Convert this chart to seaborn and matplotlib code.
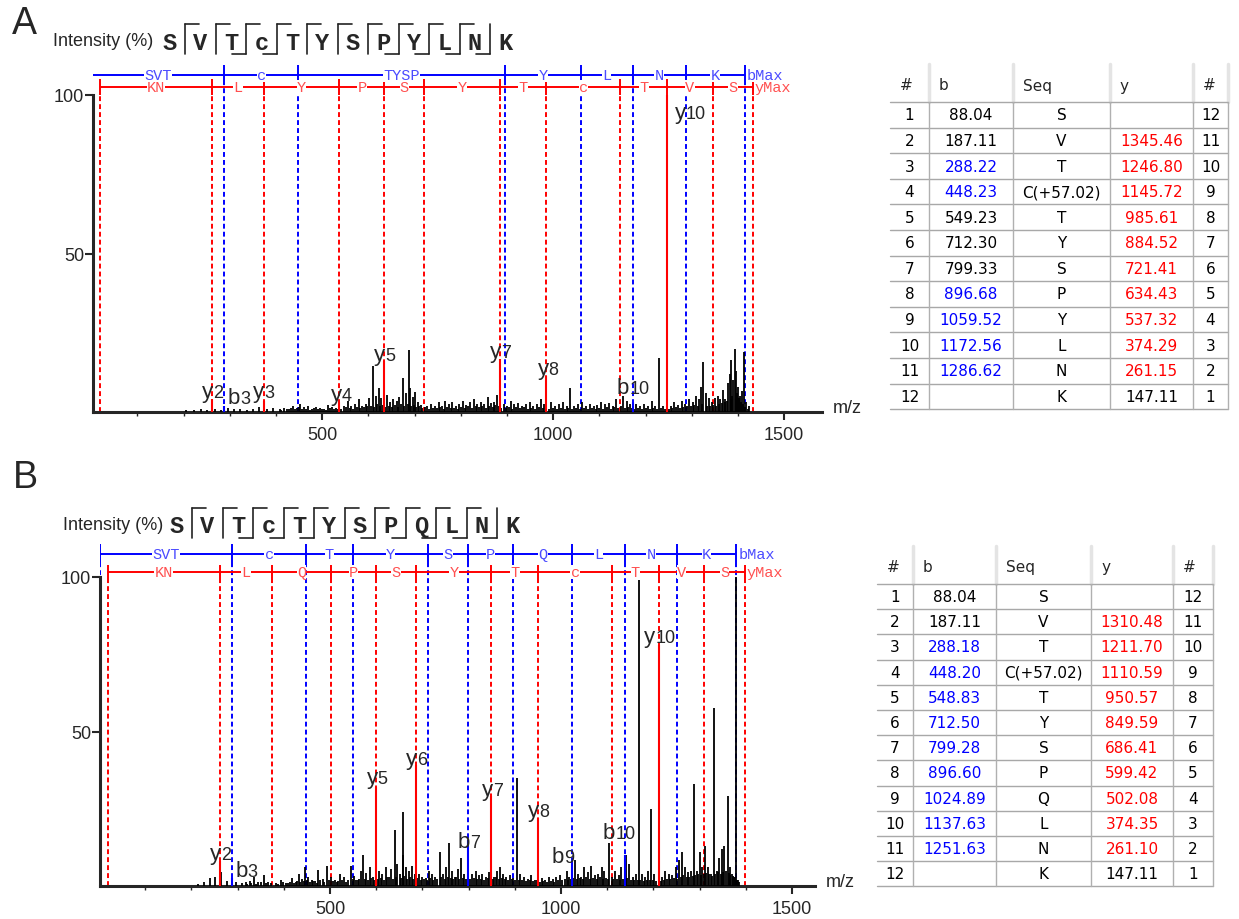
import numpy as np
import seaborn as sns
import matplotlib.pyplot as plt

sns.set_style("ticks")
plt.rcParams['font.family'] = ['Liberation Sans', 'DejaVu Sans']

BLUE = '#0000ff'
RED = '#ff0000'
BLUE_TXT = '#4b4bff'
RED_TXT = '#ff5050'

# ---------------- panel A data ----------------
seq_a = "SVTcTYSPYLNK"
b_a = [88.04, 187.11, 288.22, 448.23, 549.23, 712.30, 799.33, 896.68, 1059.52, 1172.56, 1286.62]
y_a = [None, 1345.46, 1246.80, 1145.72, 985.61, 884.52, 721.41, 634.43, 537.32, 374.29, 261.15, 147.11]
b_hit_a = [3, 4, 8, 9, 10, 11]
y_hit_a = [2, 3, 4, 5, 6, 7, 8, 9, 10, 11]
b_max_a, y_max_a = 1414.71, 1432.49

# larger unassigned peaks
mz_a = [205, 222, 238, 251, 268, 281, 296, 309, 322, 337, 351, 363, 381, 393,
        408, 417, 429, 437, 446, 453, 461, 469, 478, 487, 496, 504, 513, 521, 529, 548, 556, 563, 571, 579, 586, 594, 601,
        610, 616, 622, 628, 641, 647, 654, 661, 667, 675, 681, 688, 691, 696, 701, 707, 713,
        728, 736, 744, 752, 759, 767, 774, 782, 790, 797, 805, 812, 820, 828, 836, 843, 851, 858, 865, 872, 878,
        893, 900, 908, 916, 924, 932, 941, 949, 957, 965, 973, 980, 996, 1004, 1012, 1021, 1029, 1037, 1046, 1054,
        1063, 1071, 1080, 1088, 1096, 1104, 1112, 1121, 1129, 1136, 1152, 1160, 1167, 1180, 1188, 1196, 1205, 1213, 1221, 1229, 1237,
        1255, 1262, 1270, 1278, 1286, 1294, 1302, 1309, 1316, 1320, 1325, 1330, 1337, 1343, 1350, 1356, 1362, 1368, 1373, 1378,
        1382, 1386, 1390, 1393, 1396, 1400, 1405, 1409, 1413, 1418, 1424]
int_a = [0.5, 0.7, 0.9, 0.6, 1.0, 0.7, 1.2, 0.8, 1.0, 0.7, 1.1, 1.5, 0.9, 1.3,
         0.8, 1.4, 1.0, 2.0, 1.2, 2.6, 1.5, 1.9, 1.0, 1.6, 1.3, 1.1, 2.3, 1.5, 1.2, 2.0, 3.6, 1.8, 2.4, 4.0, 2.0, 2.6, 4.5,
         14.5, 5.0, 7.5, 4.4, 5.5, 3.0, 4.2, 3.5, 4.8, 10.7, 6.0, 19.6, 7.5, 4.6, 6.2, 3.0, 2.2,
         2.0, 2.6, 1.8, 3.0, 2.0, 3.4, 2.4, 3.0, 2.0, 2.6, 3.6, 2.2, 3.0, 4.0, 2.6, 3.0, 2.4, 4.6, 2.8, 3.2, 5.5,
         2.6, 2.0, 3.4, 2.4, 2.8, 2.0, 2.6, 3.0, 2.0, 2.4, 4.0, 2.4, 3.0, 2.0, 2.6, 3.0, 1.8, 7.5, 2.0, 2.6,
         3.0, 2.0, 2.6, 1.8, 2.2, 3.0, 2.4, 2.8, 2.0, 4.0, 5.0, 3.6, 2.4, 2.6, 2.0, 2.4, 1.8, 3.4, 2.0, 17.0, 2.0,
         1.8, 3.0, 2.2, 3.4, 2.6, 4.0, 3.0, 5.0, 4.0, 8.0, 15.8, 6.0, 4.5, 3.0, 4.5, 5.0, 4.2, 7.0, 4.0, 9.0,
         12.0, 16.4, 10.0, 20.0, 13.0, 8.0, 5.0, 6.5, 19.0, 3.0, 2.0]

# low noise floor
mz_a_low = [412, 423, 433, 441, 450, 457, 465, 473, 483, 491, 500, 508, 517, 525, 534, 540, 552, 560, 567, 575,
            583, 590, 598, 605, 613, 619, 625, 632, 637, 644, 651, 658, 664, 671, 678, 685, 693, 699, 704, 710,
            717, 722, 732, 740, 748, 755, 763, 771, 778, 786, 794, 801, 809, 816, 824, 832, 840, 847, 855, 862,
            869, 875, 882, 888, 897, 904, 912, 920, 928, 936, 945, 953, 961, 969, 977, 984, 991, 1000, 1008, 1016,
            1025, 1033, 1041, 1050, 1058, 1067, 1075, 1084, 1092, 1100, 1108, 1116, 1125, 1132, 1140, 1147, 1156, 1163, 1171, 1176,
            1184, 1192, 1200, 1209, 1217, 1225, 1233, 1243, 1250, 1258, 1266, 1274, 1282, 1290, 1298, 1305, 1313, 1323, 1334, 1340,
            1347, 1353, 1359, 1365, 1371, 1376, 1384, 1388, 1398, 1403, 1407, 1411, 1416, 1421]
int_a_low = [0.6, 0.9, 1.2, 0.8, 1.5, 0.9, 1.1, 0.7, 1.3, 0.8, 1.0, 0.7, 1.4, 0.9, 1.1, 0.8, 1.5, 1.2, 1.0, 1.6,
             1.2, 1.5, 1.8, 2.0, 1.6, 2.4, 1.8, 2.2, 1.5, 2.0, 1.6, 2.2, 1.5, 2.5, 2.0, 2.4, 2.0, 2.2, 1.6, 1.8,
             1.2, 1.5, 1.0, 1.4, 1.2, 1.6, 1.0, 1.5, 1.2, 1.4, 1.0, 1.6, 1.2, 1.8, 1.4, 2.0, 1.5, 1.8, 1.4, 2.0,
             1.6, 2.2, 1.8, 1.4, 1.2, 1.5, 1.0, 1.6, 1.2, 1.5, 1.0, 1.4, 1.0, 1.6, 1.2, 1.4, 1.0, 1.2, 0.9, 1.4,
             1.0, 1.2, 0.9, 1.2, 1.0, 1.4, 1.0, 1.2, 0.9, 1.3, 1.0, 1.5, 1.0, 1.6, 1.2, 1.8, 1.4, 1.6, 1.2, 1.0,
             1.4, 1.0, 1.2, 1.0, 1.4, 1.0, 1.2, 0.8, 1.0, 1.2, 1.5, 1.2, 1.6, 1.8, 2.0, 2.2, 2.0, 2.5, 2.0, 1.8,
             2.2, 2.0, 2.5, 2.8, 3.0, 3.5, 4.0, 5.0, 6.0, 4.5, 3.0, 2.5, 1.5, 1.0]

ions_a = ['y2', 'b3', 'y3', 'y4', 'y5', 'y7', 'y8', 'b10', 'y10']
ion_int_a = [4, 2, 3.5, 3, 16, 16.7, 11.4, 3, 100]
lab_mz_a = [262, 320, 374, 541, 636, 887, 989, 1173, 1297]
lab_lvl_a = [5.7, 5.4, 5.7, 5.0, 17.4, 18.3, 13.2, 8.5, 94]

# ---------------- panel B data ----------------
seq_b = "SVTcTYSPQLNK"
b_b = [88.04, 187.11, 288.18, 448.20, 548.83, 712.50, 799.28, 896.60, 1024.89, 1137.63, 1251.63]
y_b = [None, 1310.48, 1211.70, 1110.59, 950.57, 849.59, 686.41, 599.42, 502.08, 374.35, 261.10, 147.11]
b_hit_b = [3, 4, 5, 6, 7, 8, 9, 10, 11]
y_hit_b = [2, 3, 4, 5, 6, 7, 8, 9, 10, 11]
b_max_b, y_max_b = 1379.72, 1397.51

mz_b = [215, 228, 241, 250, 265, 276, 296, 309, 318, 326, 336, 345, 357, 366, 382, 393, 404,
        418, 426, 432, 439, 446, 453, 461, 468, 475, 484, 494, 503, 511, 522, 531, 545, 553, 560, 566, 571, 578, 586, 592,
        606, 613, 621, 628, 633, 640, 646, 651, 657, 659, 664, 670, 677, 683, 693, 700, 708, 714, 721, 728,
        738, 745, 752, 757, 764, 770, 776, 783, 790,
        808, 815, 822, 830, 838, 844, 856, 862, 868, 875, 882, 890, 897, 905, 912, 920, 928, 936, 944, 958, 966, 974, 982, 990, 998,
        1012, 1018, 1030, 1037, 1044, 1050, 1058, 1066, 1073, 1080, 1088, 1094, 1104, 1110, 1118, 1125, 1131, 1141, 1148,
        1156, 1163, 1169, 1175, 1182, 1189, 1195, 1202,
        1219, 1226, 1234, 1241, 1248, 1256, 1262, 1269, 1275, 1282, 1288, 1294, 1300, 1306, 1312, 1318, 1324, 1331, 1337,
        1343, 1349, 1354, 1361, 1365, 1370, 1374, 1379, 1384]
int_b = [0.6, 1.2, 2.5, 3.0, 4.5, 1.5, 1.4, 1.0, 1.2, 1.6, 3.0, 1.2, 3.6, 1.4, 1.0, 2.0, 1.0,
         2.6, 1.4, 4.0, 2.2, 6.0, 3.0, 2.0, 1.6, 5.2, 2.4, 6.4, 3.0, 2.0, 4.0, 3.0, 6.6, 3.2, 2.0, 5.0, 10.0, 4.2, 6.0, 3.0,
         5.0, 4.0, 6.0, 3.0, 5.6, 18.0, 7.0, 4.0, 24.0, 10.0, 6.0, 5.0, 6.5, 4.0, 4.0, 3.0, 2.5, 5.0, 4.0, 3.0,
         11.0, 4.0, 6.0, 14.0, 5.0, 3.0, 5.5, 9.0, 4.0,
         4.0, 5.0, 3.4, 4.0, 3.0, 4.6, 3.0, 5.0, 6.0, 4.0, 3.0, 3.4, 2.6, 35.0, 4.0, 3.0, 2.4, 3.4, 2.0, 2.6, 2.0, 3.0, 2.2, 3.0, 3.6,
         5.0, 3.0, 8.5, 4.0, 3.0, 6.0, 4.5, 6.5, 3.5, 4.0, 6.0, 5.0, 14.0, 3.0, 5.0, 3.5, 6.0, 10.0, 7.0,
         3.0, 4.0, 99.0, 4.0, 3.0, 5.0, 25.0, 4.0,
         3.0, 5.0, 4.0, 3.5, 6.0, 8.5, 11.0, 6.0, 4.5, 5.0, 33.0, 5.0, 11.0, 6.0, 13.0, 6.0, 4.0, 57.6, 5.0,
         9.0, 12.0, 13.0, 29.0, 6.0, 4.0, 3.0, 100.0, 2.0]

mz_b_low = [320, 330, 340, 350, 362, 372, 388, 398, 410, 414, 422, 429, 436, 443, 450, 457, 464, 472, 479, 488,
            498, 507, 515, 518, 526, 535, 540, 549, 556, 563, 575, 582, 589, 596, 603, 610, 617, 624, 636, 643,
            654, 661, 667, 674, 680, 689, 697, 704, 711, 717, 724, 732, 741, 748, 755, 761, 767, 773, 779, 787,
            795, 803, 812, 818, 826, 834, 841, 848, 853, 859, 865, 872, 879, 886, 894, 901, 909, 916, 924, 932,
            940, 948, 954, 962, 970, 978, 986, 994, 1003, 1008, 1015, 1022, 1027, 1034, 1041, 1047, 1054, 1062, 1070, 1077,
            1084, 1091, 1098, 1101, 1113, 1121, 1128, 1135, 1144, 1152, 1159, 1166, 1172, 1179, 1186, 1192, 1199, 1206, 1213, 1216,
            1222, 1229, 1237, 1244, 1251, 1259, 1265, 1272, 1278, 1285, 1291, 1297, 1303, 1309, 1315, 1321, 1327, 1334, 1340, 1346,
            1351, 1357, 1363, 1367, 1372, 1376, 1381, 1386]
int_b_low = [0.8, 1.0, 0.8, 1.2, 0.9, 1.0, 0.8, 1.2, 1.0, 1.4, 0.9, 1.6, 1.2, 1.5, 1.8, 1.2, 1.5, 1.0, 1.8, 1.4,
             2.0, 1.5, 1.2, 1.6, 1.8, 1.4, 2.0, 2.4, 1.8, 2.2, 2.4, 2.0, 2.6, 2.0, 2.4, 2.6, 2.0, 2.8, 2.4, 3.0,
             2.6, 3.2, 2.4, 2.8, 2.4, 2.6, 2.0, 2.4, 2.0, 2.6, 2.0, 2.4, 2.8, 2.4, 3.0, 2.6, 2.2, 2.8, 2.4, 2.6,
             2.4, 2.2, 2.6, 2.2, 2.4, 2.0, 2.6, 2.2, 2.4, 2.8, 2.4, 2.6, 2.2, 2.0, 2.2, 2.0, 1.8, 2.0, 1.6, 1.8,
             1.5, 1.8, 1.4, 1.6, 1.4, 1.6, 1.4, 1.8, 2.0, 2.4, 2.0, 2.2, 2.6, 2.2, 2.6, 2.2, 2.8, 2.4, 2.6, 2.4,
             2.8, 2.4, 2.6, 2.2, 2.4, 2.2, 2.0, 2.4, 2.6, 2.0, 1.8, 2.0, 1.8, 1.6, 1.8, 2.0, 1.8, 1.6, 1.8, 1.5,
             2.0, 2.2, 2.4, 2.6, 2.4, 3.0, 3.4, 3.0, 2.8, 3.2, 3.4, 3.8, 3.6, 4.0, 4.2, 3.8, 3.2, 4.0, 4.4, 4.0,
             4.5, 4.8, 4.2, 3.6, 3.2, 2.8, 2.0, 1.2]

ions_b = ['y2', 'b3', 'y5', 'y6', 'b7', 'y7', 'y8', 'b9', 'b10', 'y10']
ion_int_b = [8, 2.5, 32, 39, 15, 29, 22, 8, 10, 78]
lab_mz_b = [262, 319, 602, 688, 801, 851, 952, 1005, 1126, 1214]
lab_lvl_b = [9.7, 5.8, 34.3, 40.5, 15.2, 30.7, 23.6, 10.4, 18.1, 80]

table_cols = ['#', 'b', 'Seq', 'y', '#']


def ion_mz(name, b, y):
    n = int(name[1:])
    return b[n - 1] if name[0] == 'b' else y[12 - n]


def ion_label(ax, name, mz, level):
    letter, num = name[0], name[1:]
    fs1, fs2 = 16, 13
    wl = (0.5 if letter == 'y' else 0.556) * fs1
    wd = 0.556 * fs2 * len(num)
    off = -(wd - wl) / 2
    base = level - (1.1 if letter == 'y' else 2.5)
    ax.annotate(letter, (mz, base), xytext=(off, 0), textcoords='offset points',
                ha='right', va='baseline', fontsize=fs1, zorder=6)
    ax.annotate(num, (mz, base), xytext=(off, 0), textcoords='offset points',
                ha='left', va='baseline', fontsize=fs2, zorder=6)


def ladder(ax, pos, labels, level, half, color, txtcolor, endname):
    ax.hlines(level, pos[0], pos[-1], color=color, lw=1.4, zorder=3)
    ax.vlines(pos, level - half, level + half, color=color, lw=1.4, zorder=3)
    ax.vlines(pos, 0, level - half, color=color, lw=1.4, linestyles=(0, (2.5, 1.6)), zorder=2)
    for i, lab in enumerate(labels):
        ax.text((pos[i] + pos[i + 1]) / 2, level, lab, ha='center', va='center', color=txtcolor,
                fontsize=11, family='Liberation Mono', zorder=4,
                bbox=dict(fc='white', ec='none', pad=0.1))
    ax.text(pos[-1] + 4, level, endname, ha='left', va='center', color=txtcolor,
            fontsize=11, family='Liberation Mono', zorder=4,
            bbox=dict(fc='white', ec='none', pad=0.1))


def draw_spectrum(ax, seq, b, y, b_hit, y_hit, b_max, y_max, mz, inten, mz_low, int_low,
                  ions, ion_int, lab_mz, lab_lvl, lad_b, lad_y, xmax, ymax):
    ax.set_facecolor('none')
    # fragment ladders
    bi = [0] + b_hit + [12]
    bpos = [1.008] + [b[i - 1] for i in b_hit] + [b_max]
    blab = [seq[bi[j]:bi[j + 1]] for j in range(len(bi) - 1)]
    ladder(ax, bpos, blab, lad_b, 3.2, BLUE, BLUE_TXT, 'bMax')
    yi = [0] + y_hit + [12]
    ypos = [19.02] + [y[12 - k] for k in y_hit] + [y_max]
    rseq = seq[::-1]
    ylab = [rseq[yi[j]:yi[j + 1]] for j in range(len(yi) - 1)]
    ladder(ax, ypos, ylab, lad_y, 2.4, RED, RED_TXT, 'yMax')
    # peaks
    ax.vlines(mz_low, 0, int_low, color='black', lw=1.3, zorder=4)
    ax.vlines(mz, 0, inten, color='black', lw=1.3, zorder=4)
    for name, h, lx, ly in zip(ions, ion_int, lab_mz, lab_lvl):
        col = BLUE if name[0] == 'b' else RED
        ax.vlines(ion_mz(name, b, y), 0, h, color=col, lw=1.5, zorder=5)
        ion_label(ax, name, lx, ly)
    ax.set_xlim(xmax[0], xmax[1])
    ax.set_ylim(0, ymax)
    ax.set_xticks([500, 1000, 1500])
    ax.set_xticks(np.arange(100, 1600, 100), minor=True)
    ax.set_yticks([50, 100])
    ax.tick_params(axis='both', which='major', length=6, width=1.5, labelsize=13, direction='out')
    ax.tick_params(axis='x', which='minor', length=3, width=1)
    ax.tick_params(axis='y', pad=0.5)
    ax.tick_params(axis='x', pad=4)
    sns.despine(ax=ax)
    for s in ['left', 'bottom']:
        ax.spines[s].set_linewidth(2.2)
    ax.spines['left'].set_bounds(0, 100)
    ax.annotate('m/z', xy=(1, 0), xycoords='axes fraction', xytext=(8, 3),
                textcoords='offset points', ha='left', va='center', fontsize=13)


def draw_sequence(over, seq, b_hit, y_hit, x0, yc, x_int):
    sp = 30.5
    over.text(x_int, yc, 'Intensity (%)', ha='left', va='center', fontsize=13)
    for i, aa in enumerate(seq):
        over.text(x0 + i * sp, yc + 1, aa, ha='center', va='center', fontsize=17,
                  family='Liberation Mono', fontweight='bold')
    for i in range(1, 12):
        xm = x0 + (i - 0.5) * sp
        top, bot = yc - 17, yc + 13
        over.plot([xm, xm], [top, bot], color='#222222', lw=1.2)
        if (12 - i) in y_hit:
            over.plot([xm, xm + 14], [top, top], color='#222222', lw=1.2)
        if i in b_hit:
            over.plot([xm - 14, xm], [bot, bot], color='#222222', lw=1.2)


def draw_table(over, xs, top, head_bot, row_h, b, y, b_hit, seq):
    right = xs[-1]
    for xv in xs[1:]:
        over.plot([xv, xv], [top, head_bot], color='#e4e4e4', lw=2.5)
    for j, name in enumerate(table_cols):
        over.text(xs[j] + 10, (top + head_bot) / 2 + 2, name, ha='left', va='center',
                  fontsize=11, family='DejaVu Sans')
    bottom = head_bot + 12 * row_h
    for r in range(13):
        yy = head_bot + r * row_h
        over.plot([xs[0], right], [yy, yy], color='#a8a8a8', lw=1)
    for xv in xs[1:]:
        over.plot([xv, xv], [head_bot, bottom], color='#b0b0b0', lw=1)
    for r in range(12):
        yc = head_bot + (r + 0.5) * row_h
        aa = 'C(+57.02)' if seq[r] == 'c' else seq[r]
        cells = [str(r + 1),
                 '' if r >= len(b) else f"{b[r]:.2f}",
                 aa,
                 '' if y[r] is None else f"{y[r]:.2f}",
                 str(12 - r)]
        colors = ['black',
                  BLUE if (r + 1) in b_hit else 'black',
                  'black',
                  RED if 0 < r < 11 else 'black',
                  'black']
        for j in range(5):
            over.text((xs[j] + xs[j + 1]) / 2, yc, cells[j], ha='center', va='center',
                      fontsize=11, color=colors[j], family='DejaVu Sans')


fig = plt.figure(figsize=(12.39, 9.2), dpi=100)
over = fig.add_axes([0, 0, 1, 1])
over.set_xlim(0, 1239)
over.set_ylim(920, 0)
over.axis('off')
over.patch.set_alpha(0)

ax_a = fig.add_axes([93 / 1239, (920 - 413) / 920, 729 / 1239, 350 / 920])
draw_spectrum(ax_a, seq_a, b_a, y_a, b_hit_a, y_hit_a, b_max_a, y_max_a, mz_a, int_a, mz_a_low, int_a_low,
              ions_a, ion_int_a, lab_mz_a, lab_lvl_a, 106.3, 102.5, (4, 1582), 350 / 3.17)

ax_b = fig.add_axes([100 / 1239, (920 - 887) / 920, 715 / 1239, 342 / 920])
draw_spectrum(ax_b, seq_b, b_b, y_b, b_hit_b, y_hit_b, b_max_b, y_max_b, mz_b, int_b, mz_b_low, int_b_low,
              ions_b, ion_int_b, lab_mz_b, lab_lvl_b, 107.4, 101.6, (2, 1550), 342 / 3.09)

over.text(24, 24, 'A', ha='center', va='center', fontsize=27)
over.text(25, 478, 'B', ha='center', va='center', fontsize=27)
draw_sequence(over, seq_a, b_hit_a, y_hit_a, 170, 42, 53)
draw_sequence(over, seq_b, b_hit_b, y_hit_b, 177, 526, 63)

draw_table(over, [890, 929, 1013, 1110, 1193, 1228], 65, 103, 25.6, b_a, y_a, b_hit_a, seq_a)
draw_table(over, [877, 913, 996, 1091, 1173, 1213], 547, 585, 25.2, b_b, y_b, b_hit_b, seq_b)

fig.savefig('out.png', dpi=100)
